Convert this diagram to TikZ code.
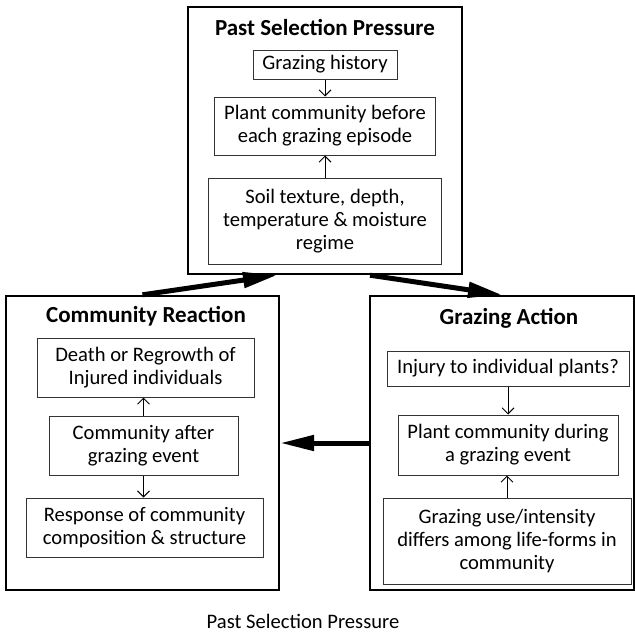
\documentclass[tikz,border=0pt]{standalone}
\usepackage{fontspec}
\setmainfont{Carlito}
\usetikzlibrary{arrows.meta,calc}

\tikzset{
  caixa/.style={draw=black!80, line width=0.5pt, align=center, inner sep=1pt,
    font=\fontsize{10.3}{11.6}\selectfont},
  bloco/.style={draw, line width=1.2pt, inner sep=0pt},
  titulo/.style={font=\fontsize{11.5}{13}\selectfont\bfseries},
  seta/.style={-{Straight Barb[length=3pt,width=6pt]}, line width=0.5pt},
  setagrossa/.style={-{Triangle[length=17pt,width=7.5pt]}, line width=2.5pt}
}

\begin{document}
\begin{tikzpicture}[x=0.5pt, y=-0.5pt]
  \useasboundingbox (0,0) rectangle (635,632);

  % Blocos externos
  \node at (325,140.5) (pastbox) [bloco, minimum width=137pt, minimum height=133.5pt] {};
  \node at (142.5,443) (reacbox) [bloco, minimum width=136.5pt, minimum height=147pt] {};
  \node at (502,443) (actbox) [bloco, minimum width=132pt, minimum height=147pt] {};

  % Titulos
  \node at (325,27) (pasttitle) [titulo] {Past Selection Pressure};
  \node at (146,316) (reactitle) [titulo] {Community Reaction};
  \node at (509,318) (acttitle) [titulo] {Grazing Action};

  % Caixas de cima
  \node at (325,64.5) (hist) [caixa, minimum width=72pt, minimum height=14.5pt] {Grazing history};
  \node at (325,126) (pbefore) [caixa, minimum width=110.5pt, minimum height=29pt] {Plant community before\\each grazing episode};
  \node at (325,221) (soil) [caixa, minimum width=116.5pt, minimum height=43pt] {Soil texture, depth,\\temperature \& moisture\\regime};

  % Caixas da esquerda
  \node at (145.5,367.5) (death) [caixa, minimum width=108.5pt, minimum height=29.5pt] {Death or Regrowth of\\Injured individuals};
  \node at (143.5,445.5) (cafter) [caixa, minimum width=94.5pt, minimum height=29.5pt] {Community after\\grazing event};
  \node at (144.5,527.5) (resp) [caixa, minimum width=118.5pt, minimum height=29.5pt] {Response of community\\composition \& structure};

  % Caixas da direita
  \node at (508,368.5) (injury) [caixa, minimum width=121pt, minimum height=17.5pt] {Injury to individual plants?};
  \node at (508,445) (pduring) [caixa, minimum width=110pt, minimum height=30pt] {Plant community during\\a grazing event};
  \node at (507,541) (guse) [caixa, minimum width=124pt, minimum height=43pt] {Grazing use/intensity\\differs among life-forms in\\community};

  \node at (303,621) (legenda) [font=\fontsize{10.3}{11.6}\selectfont] {Past Selection Pressure};

  % Setas finas
  \draw[seta] (hist.south) -- (hist.south |- pbefore.north);
  \draw[seta] (soil.north) -- (soil.north |- pbefore.south);
  \draw[seta] (cafter.north) -- (cafter.north |- death.south);
  \draw[seta] (cafter.south) -- (cafter.south |- resp.north);
  \draw[seta] (injury.south) -- (injury.south |- pduring.north);
  \draw[seta] (guse.north) -- (guse.north |- pduring.south);

  % Setas grossas
  \draw[setagrossa] (reacbox.north) -- ([xshift=-24pt]pastbox.south);
  \draw[setagrossa] ([xshift=22.5pt]pastbox.south) -- (actbox.north);
  \draw[setagrossa] (actbox.west) -- (reacbox.east);
\end{tikzpicture}
\end{document}
